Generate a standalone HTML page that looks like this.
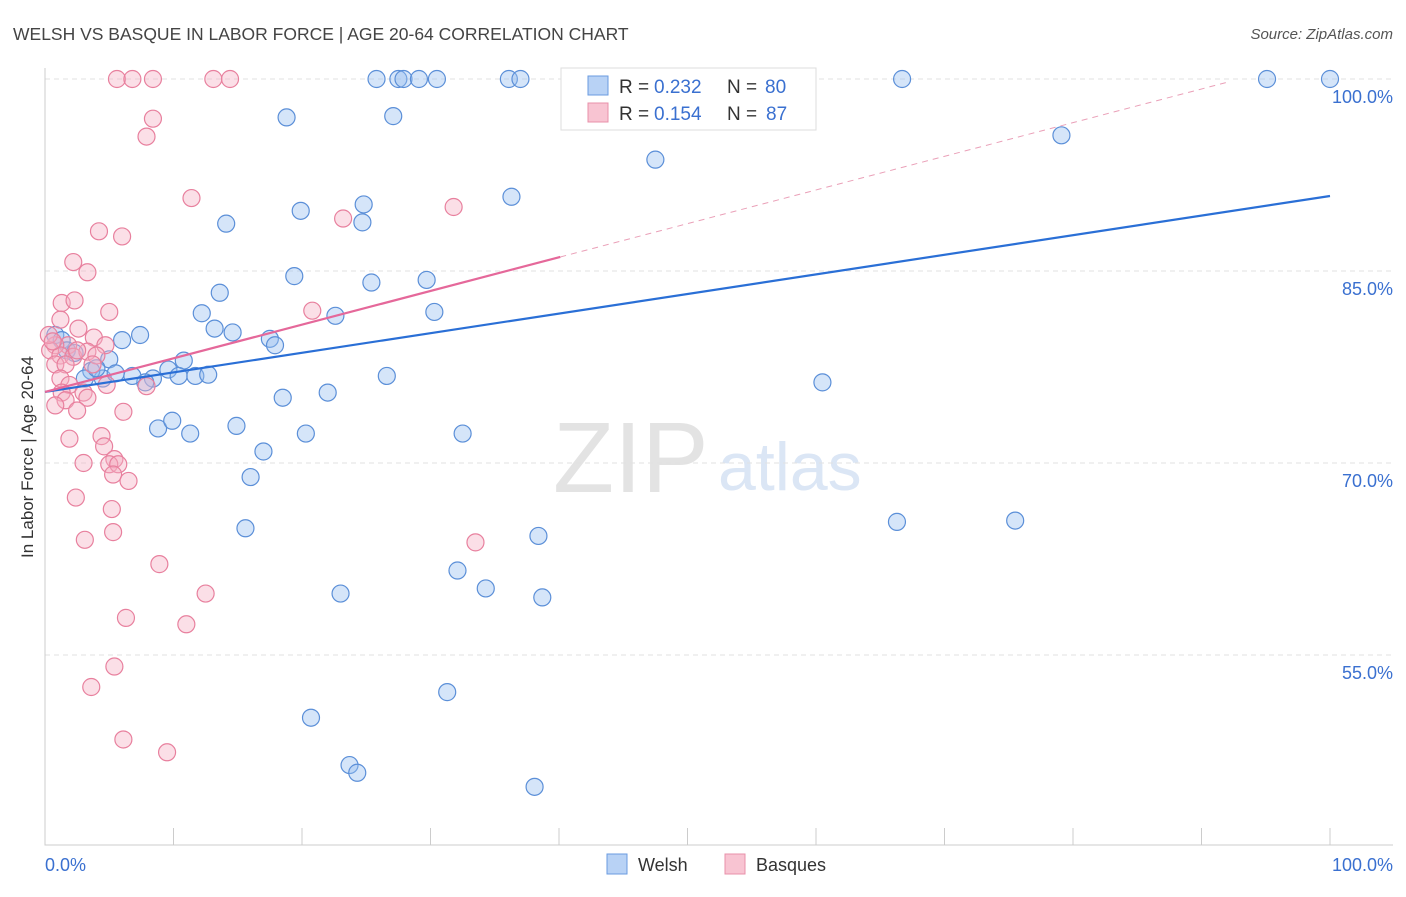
<!DOCTYPE html>
<html><head><meta charset="utf-8"><style>
body{margin:0;background:#fff;font-family:"Liberation Sans",sans-serif}
svg text{font-family:"Liberation Sans",sans-serif}
</style></head><body>
<svg id="chart" width="1406" height="892" xmlns="http://www.w3.org/2000/svg">
<text x="13" y="40" font-size="17.5" fill="#444">WELSH VS BASQUE IN LABOR FORCE | AGE 20-64 CORRELATION CHART</text>
<text x="1393" y="39" font-size="15" fill="#555" font-style="italic" text-anchor="end">Source: ZipAtlas.com</text>
<text x="553" y="492" font-size="100" fill="#e3e3e3" font-family="Liberation Serif">ZIP</text>
<text x="718" y="490" font-size="68" fill="#dbe6f5">atlas</text>
<text transform="translate(33,457) rotate(-90)" font-size="17" fill="#333" text-anchor="middle">In Labor Force | Age 20-64</text>
<g id="grid"></g><g id="marks"></g>
<g>
<rect x="561" y="68" width="255" height="62" fill="#fff" stroke="#ddd"/>
<rect x="588" y="76" width="20" height="19" fill="#b8d2f5" stroke="#6a9be0"/>
<rect x="588" y="103" width="20" height="19" fill="#f8c4d2" stroke="#e890aa"/>
<text x="619" y="93" font-size="19" fill="#333">R =</text>
<text x="654" y="93" font-size="19" fill="#3a70d0">0.232</text>
<text x="727" y="93" font-size="19" fill="#333">N =</text>
<text x="765" y="93" font-size="19" fill="#3a70d0">80</text>
<text x="619" y="120" font-size="19" fill="#333">R =</text>
<text x="654" y="120" font-size="19" fill="#3a70d0">0.154</text>
<text x="727" y="120" font-size="19" fill="#333">N =</text>
<text x="766" y="120" font-size="19" fill="#3a70d0">87</text>
</g>
<g>
<rect x="607" y="854" width="20" height="20" fill="#b8d2f5" stroke="#6a9be0"/>
<text x="638" y="871" font-size="18" fill="#333">Welsh</text>
<rect x="725" y="854" width="20" height="20" fill="#f8c4d2" stroke="#e890aa"/>
<text x="756" y="871" font-size="18" fill="#333">Basques</text>
</g>
</svg>
<script>
const yTicks=[100,85,70,55];
const xTickLabels=["0.0%","100.0%"];
const welshX=[25.8,27.5,27.9,29.1,30.5,36.1,37.0,41.2,43.6,66.7,95.1,100,18.8,27.1,79.1,47.5,36.3,19.9,24.8,24.7,14.1,19.4,25.4,29.7,13.6,12.2,30.3,22.6,13.2,14.6,17.5,17.9,7.4,6.0,5.0,10.8,9.6,10.4,11.7,12.7,8.4,7.8,6.8,4.5,3.6,3.1,4.0,5.5,0.8,1.3,1.7,2.3,26.6,60.5,22.0,18.5,8.8,9.9,14.9,11.3,20.3,32.5,17.0,16.0,15.6,38.4,66.3,75.5,32.1,34.3,23.0,38.7,31.3,20.7,23.7,24.3,38.1];
const welshY=[100,100,100,100,100,100,100,100,100,100,100,100,97.0,97.1,95.6,93.7,90.8,89.7,90.2,88.8,88.7,84.6,84.1,84.3,83.3,81.7,81.8,81.5,80.5,80.2,79.7,79.2,80.0,79.6,78.1,78.0,77.3,76.8,76.8,76.9,76.6,76.3,76.8,76.6,77.2,76.6,77.4,77.0,80.0,79.6,78.8,78.6,76.8,76.3,75.5,75.1,72.7,73.3,72.9,72.3,72.3,72.3,70.9,68.9,64.9,64.3,65.4,65.5,61.6,60.2,59.8,59.5,52.1,50.1,46.4,45.8,44.7];
const basqueX=[5.6,6.8,8.4,13.1,14.4,8.4,7.9,11.4,23.2,31.8,4.2,6.0,2.2,3.3,1.3,2.3,5.0,20.8,1.2,2.6,3.8,4.7,1.8,0.8,0.4,1.2,2.2,3.3,4.0,0.8,1.6,2.5,3.7,1.2,1.9,1.3,3.0,4.8,7.9,1.6,3.3,0.8,2.5,6.1,1.9,4.4,4.6,5.4,3.0,5.0,5.7,5.3,6.5,2.4,5.2,5.3,3.1,33.5,8.9,12.5,6.3,11.0,5.4,3.6,6.1,9.5,0.3,0.6];
const basqueY=[100,100,100,100,100,96.9,95.5,90.7,89.1,90.0,88.1,87.7,85.7,84.9,82.5,82.7,81.8,81.9,81.2,80.5,79.8,79.2,79.2,79.2,78.8,78.4,78.3,78.7,78.4,77.7,77.7,78.8,77.7,76.6,76.1,75.5,75.5,76.1,76.0,74.9,75.1,74.5,74.1,74.0,71.9,72.1,71.3,70.3,70.0,69.9,69.9,69.1,68.6,67.3,66.4,64.6,64.0,63.8,62.1,59.8,57.9,57.4,54.1,52.5,48.4,47.4,80.0,79.5];
const welshTrend=[75.55,90.86];
const basqueTrend=[75.55,0.263,40.1,92];
const NS="http://www.w3.org/2000/svg";
const sx=v=>45+v*12.85, sy=v=>79+(100-v)*12.8;
const grid=document.getElementById('grid'), marks=document.getElementById('marks');
function mk(tag,attrs,parent){const e=document.createElementNS(NS,tag);for(const k in attrs)e.setAttribute(k,attrs[k]);parent.appendChild(e);return e;}
yTicks.forEach(t=>{
  const l=mk('line',{x1:45,x2:1393,y1:sy(t),y2:sy(t),stroke:'#e2e2e2','stroke-dasharray':'5,4'},grid);
  
  
  const tx=mk('text',{x:1393,y:sy(t)+24,'font-size':18,fill:'#3a70d0','text-anchor':'end'},grid);
  tx.textContent=t.toFixed(1)+'%';
  
  
});
const ax=mk('path',{d:'M45 68 V845 H1393',stroke:'#ccc',fill:'none'},grid);


for(let i=1;i<=10;i++){const tk=mk('line',{x1:sx(i*10),x2:sx(i*10),y1:828,y2:845,stroke:'#ccc'},grid);
  
  }
[[0,'start',45],[1,'end',1393]].forEach(([i,a,x])=>{const t=mk('text',{x:x,y:871,'font-size':18,fill:'#3a70d0','text-anchor':a},grid);t.textContent=xTickLabels[i];
  
  });
welshX.forEach((x,i)=>{const c=mk('circle',{cx:sx(x),cy:sy(welshY[i]),r:8.5,fill:'rgba(150,190,240,0.4)',stroke:'#5b8fd8','stroke-width':1.2},marks);
  
  });
basqueX.forEach((x,i)=>{const c=mk('circle',{cx:sx(x),cy:sy(basqueY[i]),r:8.5,fill:'rgba(245,175,195,0.4)',stroke:'#e8809e','stroke-width':1.2},marks);
  
  });
const bl=mk('line',{x1:sx(0),y1:sy(welshTrend[0]),x2:sx(100),y2:sy(welshTrend[1]),stroke:'#2a6fd6','stroke-width':2.2},marks);


const by=x=>basqueTrend[0]+basqueTrend[1]*x;
const pl=mk('line',{x1:sx(0),y1:sy(by(0)),x2:sx(basqueTrend[2]),y2:sy(by(basqueTrend[2])),stroke:'#e5689a','stroke-width':2.2},marks);


const pd=mk('line',{x1:sx(basqueTrend[2]),y1:sy(by(basqueTrend[2])),x2:sx(basqueTrend[3]),y2:sy(by(basqueTrend[3])),stroke:'#eaa0b8','stroke-width':1,'stroke-dasharray':'6,5'},marks);


</script>
</body></html>
